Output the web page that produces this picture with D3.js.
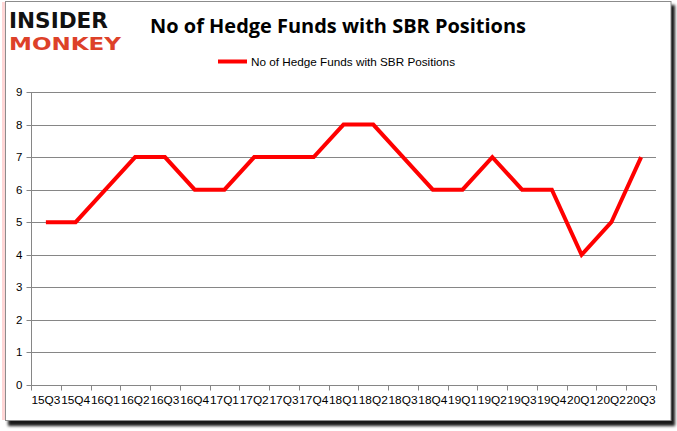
<!DOCTYPE html>
<html><head><meta charset="utf-8">
<script src="https://cdn.jsdelivr.net/npm/d3@7"></script>
<style>html,body{margin:0;padding:0;background:#fff;}svg{display:block;}</style>
</head><body>
<script>
const categories = ["15Q3","15Q4","16Q1","16Q2","16Q3","16Q4","17Q1","17Q2","17Q3","17Q4","18Q1","18Q2","18Q3","18Q4","19Q1","19Q2","19Q3","19Q4","20Q1","20Q2","20Q3"];
const values = [5,5,6,7,7,6,6,7,7,7,8,8,7,6,6,7,6,6,4,5,7];
const yTicks = [0,1,2,3,4,5,6,7,8,9];
const seriesName = "No of Hedge Funds with SBR Positions";
const titleText = "No of Hedge Funds with SBR Positions";

const W = 677, H = 431;
const svg = d3.select("body").append("svg").attr("width", W).attr("height", H);

// frame with red shadow
const defs = svg.append("defs");
const f = defs.append("filter").attr("id","sh").attr("x","-5%").attr("y","-5%").attr("width","110%").attr("height","115%");
f.append("feGaussianBlur").attr("in","SourceAlpha").attr("stdDeviation",1.5).attr("result","b");
svg.append("rect").attr("x",8).attr("y",5).attr("width",667).attr("height",421).attr("fill","#ff0000").attr("opacity",0.9).attr("filter","url(#sh)");
svg.append("rect").attr("x",2).attr("y",2).attr("width",6).attr("height",418).attr("fill","#ffd6d6");
svg.append("rect").attr("x",5.5).attr("y",1.5).attr("width",665.5).attr("height",419).attr("fill","#fff").attr("stroke","#8c8c8c").attr("stroke-width",1);

// logo
const logo = svg.append("g").attr("font-family","'DejaVu Sans', sans-serif").attr("font-weight","bold");
logo.append("text").attr("x",9).attr("y",28).attr("font-size",21).attr("textLength",99).attr("lengthAdjust","spacingAndGlyphs").attr("fill","#111").text("INSIDER");
logo.append("text").attr("x",9).attr("y",50).attr("font-size",18).attr("textLength",112).attr("lengthAdjust","spacingAndGlyphs").attr("fill","#dd4129").text("MONKEY");

// title
svg.append("text").attr("x",338).attr("y",33).attr("text-anchor","middle")
  .attr("font-family","'Open Sans', 'Liberation Sans', sans-serif").attr("font-weight","bold").attr("font-size",19)
  .attr("textLength",376).attr("lengthAdjust","spacingAndGlyphs").attr("fill","#000").text(titleText);

// legend
svg.append("line").attr("x1",218).attr("x2",247).attr("y1",61.5).attr("y2",61.5).attr("stroke","#ff0000").attr("stroke-width",4);
svg.append("text").attr("x",251).attr("y",65.5).attr("font-family","'Liberation Sans', Arial, sans-serif").attr("font-size",11.5)
  .attr("textLength",204).attr("lengthAdjust","spacingAndGlyphs").attr("fill","#000").text(seriesName);

// scales
const x = d3.scaleBand().domain(categories).range([31,656]);
const y = d3.scaleLinear().domain([0,9]).range([385,92]);

// grid
svg.append("g").selectAll("line").data(yTicks.filter(d=>d>0)).join("line")
  .attr("x1",31).attr("x2",656).attr("y1",d=>Math.round(y(d))+0.5).attr("y2",d=>Math.round(y(d))+0.5)
  .attr("stroke","#868686").attr("stroke-width",1);

// y axis
const ya = svg.append("g").attr("transform","translate(31.5,0)")
  .call(d3.axisLeft(y).tickValues(yTicks).tickSize(5).tickPadding(4).tickFormat(d3.format("d")));
ya.select(".domain").attr("stroke","#868686").attr("d","M0,"+y(9)+"V"+(Math.round(y(0))+0.5));
ya.selectAll(".tick line").attr("stroke","#868686");
ya.selectAll(".tick").attr("transform",d=>"translate(0,"+(Math.round(y(d))+0.5)+")");
ya.selectAll("text").attr("font-family","'Liberation Sans', Arial, sans-serif").attr("font-size",11.5).attr("fill","#000");

// x axis
const xa = svg.append("g").attr("transform","translate(0,"+(Math.round(y(0))+0.5)+")")
  .call(d3.axisBottom(x).tickSize(0).tickPadding(10));
xa.select(".domain").attr("stroke","#868686").attr("d","M31,0H656");
const edges = categories.map((c,i)=>x(c)).concat([x(categories[categories.length-1])+x.bandwidth()]);
xa.append("g").selectAll("line").data(edges).join("line")
  .attr("x1",d=>Math.round(d)+0.5).attr("x2",d=>Math.round(d)+0.5).attr("y1",0).attr("y2",5).attr("stroke","#868686");
xa.selectAll(".tick text").attr("font-family","'Liberation Sans', Arial, sans-serif").attr("font-size",11.5).attr("fill","#000")
  .attr("textLength",29).attr("lengthAdjust","spacingAndGlyphs");

// line
const line = d3.line().x((d,i)=>x(categories[i])+x.bandwidth()/2).y(d=>y(d));
svg.append("path").datum(values).attr("d",line).attr("fill","none").attr("stroke","#ff0000").attr("stroke-width",4).attr("stroke-linejoin","miter");
</script>
</body></html>
